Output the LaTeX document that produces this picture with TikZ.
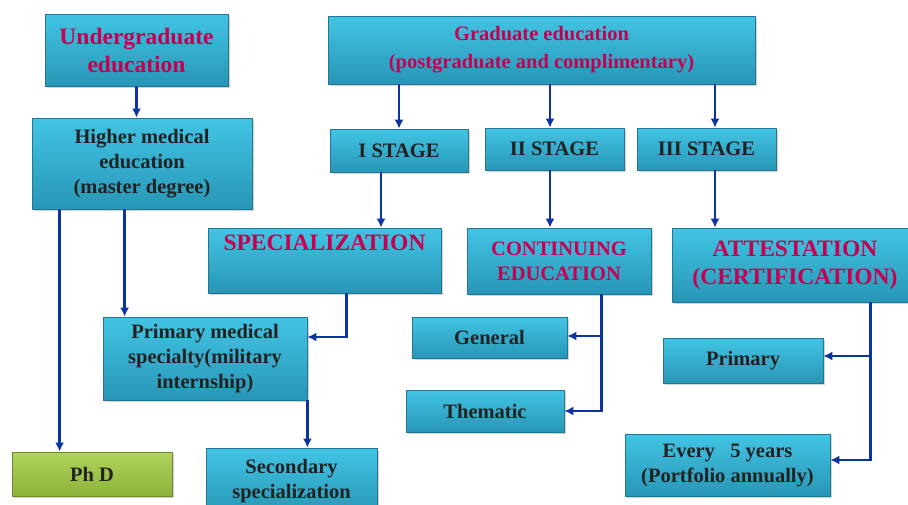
\documentclass[tikz,border=0pt]{standalone}
\usepackage{fontspec}
\setmainfont{Liberation Serif}
\usetikzlibrary{shadows,arrows.meta}
\definecolor{boxtop}{RGB}{66,196,228}
\definecolor{boxbot}{RGB}{40,150,182}
\definecolor{boxline}{RGB}{36,118,148}
\definecolor{phdtop}{RGB}{176,212,92}
\definecolor{phdbot}{RGB}{140,178,58}
\definecolor{phdline}{RGB}{108,138,48}
\definecolor{headred}{RGB}{200,0,82}
\definecolor{bodytext}{RGB}{34,34,34}
\definecolor{arrblue}{RGB}{12,52,160}

\begin{document}
\begin{tikzpicture}[x=1pt,y=-1pt,
  box/.style={rectangle, draw=boxline, line width=0.8pt,
    top color=boxtop, bottom color=boxbot,
    drop shadow={shadow xshift=2pt, shadow yshift=-2pt, opacity=0.35},
    align=center, inner sep=0pt, text=bodytext,
    font=\bfseries\fontsize{20.5}{25}\selectfont},
  head/.style={box, text=headred},
  bighead/.style={head, font=\bfseries\fontsize{23.5}{28}\selectfont},
  phdbox/.style={box, draw=phdline, top color=phdtop, bottom color=phdbot},
  arr/.style={draw=arrblue, line width=2.6pt, -{Latex[length=9pt,width=9pt]}}]
  \useasboundingbox[fill=white] (0,0) rectangle (908,504);

  % left column
  \node[bighead, minimum width=183pt, minimum height=72pt] (under) at (136.5,50) {Undergraduate\\education};
  \node[box, minimum width=220pt, minimum height=91pt] (higher) at (142,163.5) {Higher medical\\education\\(master degree)};
  \node[box, minimum width=204pt, minimum height=83pt] (prim) at (205,358.5) {\rule{0pt}{6pt}Primary medical\\specialty(military\\internship)};
  \node[phdbox, minimum width=160pt, minimum height=44pt] (phd) at (92,474) {Ph D};
  \node[box, minimum width=171pt, minimum height=66pt] (sec) at (291.5,481) {Secondary\\specialization};

  % graduate part
  \node[head, minimum width=427pt, minimum height=68pt, font=\bfseries\fontsize{20.5}{28}\selectfont] (grad) at (541.5,50) {Graduate education\\(postgraduate and complimentary)};
  \node[box, minimum width=138pt, minimum height=43pt] (st1) at (399,150.5) {I STAGE};
  \node[box, minimum width=139pt, minimum height=42pt] (st2) at (554.5,149) {II STAGE};
  \node[box, minimum width=139pt, minimum height=42pt] (st3) at (706.5,149) {III STAGE};
  \node[bighead, minimum width=233pt, minimum height=65pt] (spec) at (324.5,260.5) {SPECIALIZATION\\\strut};
  \node[head, minimum width=184pt, minimum height=66pt] (cont) at (559,261) {CONTINUING\\EDUCATION};
  \node[bighead, minimum width=246pt, minimum height=74pt] (att) at (795,265) {ATTESTATION\\(CERTIFICATION)};
  \node[box, minimum width=155pt, minimum height=41pt] (gen) at (489.5,337.5) {General};
  \node[box, minimum width=158pt, minimum height=42pt] (them) at (485,411) {Thematic};
  \node[box, minimum width=160pt, minimum height=45pt] (prim2) at (743,360.5) {Primary};
  \node[box, minimum width=205pt, minimum height=62pt] (every) at (727.5,465) {Every\ \ \ 5 years\\(Portfolio annually)};

  \draw[arr] (under.south) -- (under.south |- higher.north);
  \draw[arr] ([xshift=28pt]higher.south west) -- ([xshift=28pt]higher.south west |- phd.north);
  \draw[arr] ([xshift=93pt]higher.south west) -- ([xshift=93pt]higher.south west |- prim.north);
  \draw[arr] ([xshift=139pt]spec.south west) |- ([yshift=21.5pt]prim.east);
  \draw[arr] (prim.south east) -- (prim.south east |- sec.north);

  \draw[arr] (st1.north |- grad.south) -- (st1.north);
  \draw[arr] ([xshift=-4.5pt]st2.north |- grad.south) -- ([xshift=-4.5pt]st2.north);
  \draw[arr] ([xshift=8.5pt]st3.north |- grad.south) -- ([xshift=8.5pt]st3.north);
  \draw[arr] ([xshift=-18pt]st1.south) -- ([xshift=-18pt]st1.south |- spec.north);
  \draw[arr] ([xshift=-4.5pt]st2.south) -- ([xshift=-4.5pt]st2.south |- cont.north);
  \draw[arr] ([xshift=8.5pt]st3.south) -- ([xshift=8.5pt]st3.south |- att.north);

  \draw[arr] ([xshift=-50pt]cont.south east) |- ([yshift=1.5pt]gen.east);
  \draw[arr] ([xshift=-50pt]cont.south east) |- (them.east);
  \draw[arr] ([xshift=199pt]att.south west) |- ([yshift=4.5pt]prim2.east);
  \draw[arr] ([xshift=199pt]att.south west) |- ([yshift=5pt]every.east);
\end{tikzpicture}
\end{document}
